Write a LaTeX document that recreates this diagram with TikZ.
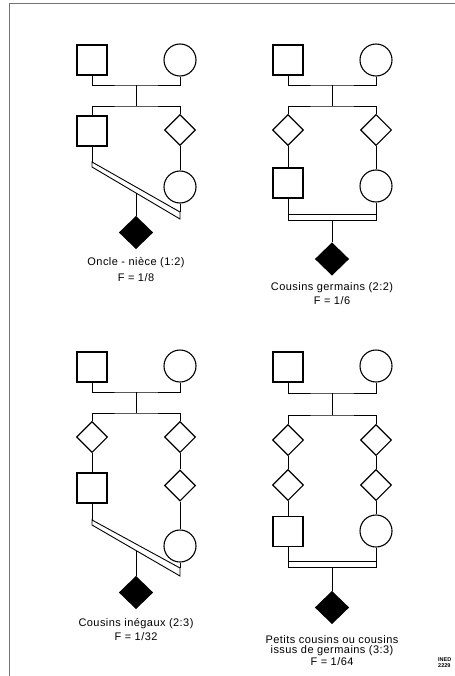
\documentclass[tikz,border=0pt]{standalone}
\usepackage{fontspec}
\setmainfont{Liberation Sans}
\newfontfamily\labelfont[LetterSpace=4]{Liberation Sans}
\usetikzlibrary{shapes.geometric}
\begin{document}
\begin{tikzpicture}[x=1bp,y=-1bp,
  male/.style={draw, rectangle, minimum size=30bp, inner sep=0pt, line width=1.3bp},
  female/.style={draw, circle, minimum size=32bp, inner sep=0pt, line width=1.1bp},
  anysex/.style={draw, diamond, minimum width=31bp, minimum height=31bp, inner sep=0pt, line width=1.1bp},
  proband/.style={anysex, fill=black, minimum width=33bp, minimum height=32bp},
  link/.style={line width=0.9bp},
  band/.style={line width=0.9bp},
  caption/.style={font=\labelfont\fontsize{11bp}{12bp}\selectfont, inner sep=0pt, align=center},
  frameline/.style={draw=black!55, line width=0.9bp}]
\useasboundingbox (0,0) rectangle (455,676);

% page frame
\draw[frameline] (9,676) -- (9,3) -- (455,3);

% ---------- Oncle - nièce ----------
\node[male]   (p1gm) at (92,60)  {};
\node[female] (p1gf) at (180,60) {};
\coordinate (p1m) at (136,85);
\coordinate (p1s) at (136,106);
\node[male]   (p1a) at (92,131)  {};
\node[anysex] (p1b) at (180,130) {};
\node[female] (p1c) at (180,187) {};
\coordinate (p1u1) at (92,162);
\coordinate (p1u2) at (180,212);
\coordinate (p1l2) at (180,219);
\coordinate (p1l1) at (92,167);
\coordinate (p1d) at (136,193);
\node[proband] (p1x) at (136,232.5) {};
\draw[link] (p1gm.south) |- (p1m) -| (p1gf.south);
\draw[link] (p1m) -- (p1s);
\draw[link] (p1a.north) |- (p1s) -| (p1b.north);
\draw[link] (p1b.south) -- (p1c.north);
\draw[link] (p1a.south) -- (p1u1);
\draw[link] (p1c.south) -- (p1u2);
\draw[band] (p1u1) -- (p1u2) -- (p1l2) -- (p1l1) -- cycle;
\draw[link] (p1d) -- (p1x.north);
\node[caption] (p1t) at (136,263) {Oncle - nièce (1:2)};
\node[caption] (p1f) at (136,278) {F = 1/8};

% ---------- Cousins germains ----------
\node[male]   (p2gm) at (288,60) {};
\node[female] (p2gf) at (376,60) {};
\coordinate (p2m) at (332,85);
\coordinate (p2s) at (332,106);
\node[anysex] (p2a) at (288,130) {};
\node[anysex] (p2b) at (376,130) {};
\node[male]   (p2c) at (288,183) {};
\node[female] (p2d) at (376,186) {};
\coordinate (p2u1) at (288,214);
\coordinate (p2u2) at (376,214);
\coordinate (p2l2) at (376,220);
\coordinate (p2l1) at (288,220);
\coordinate (p2dr) at (332,220);
\node[proband] (p2x) at (332,259) {};
\draw[link] (p2gm.south) |- (p2m) -| (p2gf.south);
\draw[link] (p2m) -- (p2s);
\draw[link] (p2a.north) |- (p2s) -| (p2b.north);
\draw[link] (p2a.south) -- (p2c.north);
\draw[link] (p2b.south) -- (p2d.north);
\draw[link] (p2c.south) -- (p2u1);
\draw[link] (p2d.south) -- (p2u2);
\draw[band] (p2u1) -- (p2u2) -- (p2l2) -- (p2l1) -- cycle;
\draw[link] (p2dr) -- (p2x.north);
\node[caption] (p2t) at (332,288) {Cousins germains (2:2)};
\node[caption] (p2f) at (332,301) {F = 1/6};

% ---------- Cousins inégaux ----------
\node[male]   (p3gm) at (92,367)  {};
\node[female] (p3gf) at (180,366) {};
\coordinate (p3m) at (136,392);
\coordinate (p3s) at (136,413);
\node[anysex] (p3a) at (92,437)  {};
\node[anysex] (p3b) at (180,437) {};
\node[male]   (p3c) at (92,488)  {};
\node[anysex] (p3d) at (180,485.5) {};
\node[female] (p3e) at (180,546) {};
\coordinate (p3u1) at (92,520);
\coordinate (p3u2) at (180,568);
\coordinate (p3l2) at (180,576);
\coordinate (p3l1) at (92,525);
\coordinate (p3dr) at (136,550.5);
\node[proband] (p3x) at (136,592.5) {};
\draw[link] (p3gm.south) |- (p3m) -| (p3gf.south);
\draw[link] (p3m) -- (p3s);
\draw[link] (p3a.north) |- (p3s) -| (p3b.north);
\draw[link] (p3a.south) -- (p3c.north);
\draw[link] (p3b.south) -- (p3d.north);
\draw[link] (p3d.south) -- (p3e.north);
\draw[link] (p3c.south) -- (p3u1);
\draw[link] (p3e.south) -- (p3u2);
\draw[band] (p3u1) -- (p3u2) -- (p3l2) -- (p3l1) -- cycle;
\draw[link] (p3dr) -- (p3x.north);
\node[caption] (p3t) at (136,624) {Cousins inégaux (2:3)};
\node[caption] (p3f) at (136,637) {F = 1/32};

% ---------- Petits cousins ----------
\node[male]   (p4gm) at (288,367) {};
\node[female] (p4gf) at (376,366) {};
\coordinate (p4m) at (332,393);
\coordinate (p4s) at (332,415);
\node[anysex] (p4a) at (288,440) {};
\node[anysex] (p4b) at (376,440) {};
\node[anysex] (p4c) at (288,485) {};
\node[anysex] (p4d) at (376,485) {};
\node[male]   (p4e) at (288,531.5) {};
\node[female] (p4f) at (376,531) {};
\coordinate (p4u1) at (288,561);
\coordinate (p4u2) at (376,561);
\coordinate (p4l2) at (376,567.5);
\coordinate (p4l1) at (288,567.5);
\coordinate (p4dr) at (332,567.5);
\node[proband] (p4x) at (332,607.5) {};
\draw[link] (p4gm.south) |- (p4m) -| (p4gf.south);
\draw[link] (p4m) -- (p4s);
\draw[link] (p4a.north) |- (p4s) -| (p4b.north);
\draw[link] (p4a.south) -- (p4c.north);
\draw[link] (p4b.south) -- (p4d.north);
\draw[link] (p4c.south) -- (p4e.north);
\draw[link] (p4d.south) -- (p4f.north);
\draw[link] (p4e.south) -- (p4u1);
\draw[link] (p4f.south) -- (p4u2);
\draw[band] (p4u1) -- (p4u2) -- (p4l2) -- (p4l1) -- cycle;
\draw[link] (p4dr) -- (p4x.north);
\node[caption] (p4t) at (332,640) {Petits cousins ou cousins};
\node[caption] (p4u) at (332,651) {issus de germains (3:3)};
\node[caption] (p4v) at (332,662) {F = 1/64};

% source reference
\node[font=\fontsize{5.5bp}{6bp}\selectfont\bfseries, inner sep=0pt, anchor=west, align=left] (src) at (438,663) {INED\\2229};
\end{tikzpicture}
\end{document}
